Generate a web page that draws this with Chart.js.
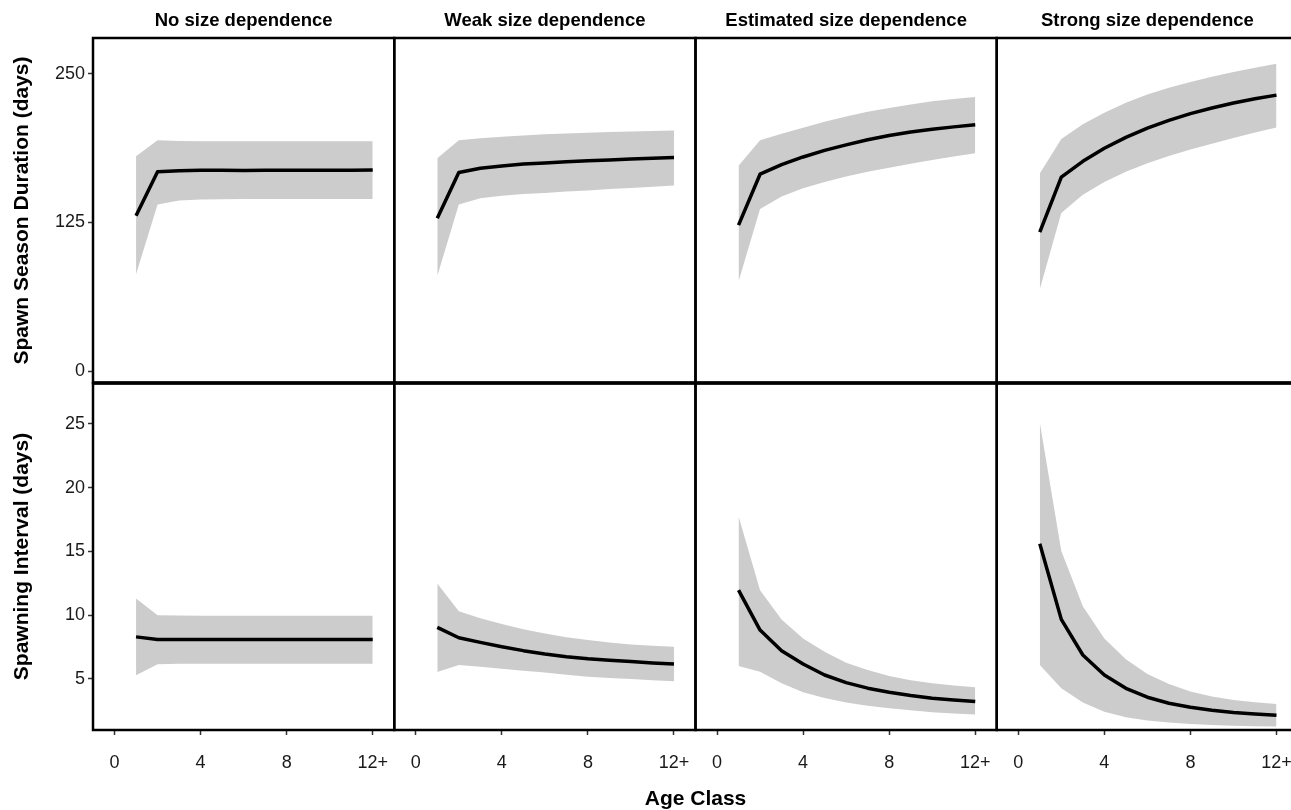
<!DOCTYPE html>
<html>
<head>
<meta charset="utf-8">
<script src="https://cdn.jsdelivr.net/npm/chart.js@4.4.1/dist/chart.umd.min.js"></script>
<style>
  html, body { margin: 0; padding: 0; overflow: hidden; background: #fff; }
  canvas { display: block; }
</style>
</head>
<body>
<canvas id="c" width="1300" height="810"></canvas>
<script>
// ---------- data ----------
const ages = [1, 2, 3, 4, 5, 6, 7, 8, 9, 10, 11, 12];
const xTickValues = [0, 4, 8, 12];
const xTickLabels = ['0', '4', '8', '12+'];
const durTicks = [0, 125, 250];
const intTicks = [5, 10, 15, 20, 25];
const panelTitles = ['No size dependence', 'Weak size dependence', 'Estimated size dependence', 'Strong size dependence'];

// Spawn season duration (days)
const durNoMean   = [130.5, 167.5, 168.5, 168.8, 168.8, 168.7, 168.8, 168.8, 168.8, 168.8, 168.8, 169.0];
const durNoLow    = [81.5, 140.0, 143.5, 144.3, 144.5, 144.6, 144.6, 144.6, 144.6, 144.6, 144.6, 144.6];
const durNoHigh   = [180.5, 194.0, 193.5, 193.3, 193.2, 193.2, 193.2, 193.2, 193.2, 193.2, 193.2, 193.2];
const durWeakMean = [128.5, 167.0, 170.5, 172.5, 174.0, 175.0, 176.0, 176.8, 177.5, 178.2, 178.9, 179.5];
const durWeakLow  = [80.0, 140.0, 145.3, 147.5, 148.8, 149.8, 150.9, 151.9, 153.0, 154.0, 155.0, 156.0];
const durWeakHigh = [179.0, 194.0, 195.7, 197.0, 198.0, 199.0, 199.8, 200.4, 201.0, 201.5, 201.9, 202.3];
const durEstMean  = [122.7, 165.5, 173.5, 180.0, 185.5, 190.2, 194.5, 198.0, 201.0, 203.3, 205.3, 207.0];
const durEstLow   = [75.3, 136.2, 146.8, 153.8, 159.0, 163.5, 167.5, 171.0, 174.3, 177.4, 180.4, 183.2];
const durEstHigh  = [172.7, 194.0, 199.5, 204.5, 209.5, 214.0, 218.0, 221.2, 224.2, 226.8, 228.8, 230.5];
const durStrMean  = [116.8, 163.0, 176.3, 187.3, 196.5, 204.2, 210.8, 216.4, 221.2, 225.4, 228.9, 232.0];
const durStrLow   = [68.8, 132.8, 148.3, 159.0, 167.5, 174.7, 180.8, 186.2, 191.2, 196.0, 200.5, 204.8];
const durStrHigh  = [166.0, 195.2, 207.5, 217.1, 225.5, 232.6, 238.2, 243.0, 247.4, 251.4, 255.0, 258.4];

// Spawning interval (days)
const intNoMean   = [8.3, 8.1, 8.1, 8.1, 8.1, 8.1, 8.1, 8.1, 8.1, 8.1, 8.1, 8.1];
const intNoLow    = [5.3, 6.15, 6.2, 6.2, 6.2, 6.2, 6.2, 6.2, 6.2, 6.2, 6.2, 6.2];
const intNoHigh   = [11.3, 10.0, 9.97, 9.95, 9.95, 9.95, 9.95, 9.95, 9.95, 9.95, 9.95, 9.95];
const intWeakMean = [9.05, 8.23, 7.87, 7.53, 7.22, 6.96, 6.75, 6.59, 6.47, 6.36, 6.26, 6.17];
const intWeakLow  = [5.55, 6.1, 5.95, 5.81, 5.65, 5.5, 5.33, 5.18, 5.08, 5.0, 4.9, 4.82];
const intWeakHigh = [12.48, 10.3, 9.75, 9.3, 8.9, 8.57, 8.28, 8.05, 7.86, 7.71, 7.6, 7.53];
const intEstMean  = [11.96, 8.83, 7.21, 6.17, 5.31, 4.71, 4.28, 3.96, 3.7, 3.49, 3.35, 3.23];
const intEstLow   = [6.02, 5.57, 4.66, 3.96, 3.5, 3.15, 2.9, 2.71, 2.54, 2.4, 2.3, 2.21];
const intEstHigh  = [17.75, 11.96, 9.67, 8.18, 7.14, 6.28, 5.7, 5.23, 4.9, 4.66, 4.48, 4.35];
const intStrMean  = [15.6, 9.67, 6.88, 5.31, 4.27, 3.57, 3.1, 2.79, 2.55, 2.37, 2.25, 2.16];
const intStrLow   = [6.1, 4.27, 3.15, 2.44, 2.0, 1.74, 1.58, 1.48, 1.4, 1.34, 1.3, 1.27];
const intStrHigh  = [25.1, 15.04, 10.71, 8.18, 6.54, 5.39, 4.6, 4.01, 3.63, 3.36, 3.18, 3.04];

// ---------- build ----------
const FONT = '"Liberation Sans", Arial, Helvetica, sans-serif';
Chart.defaults.font.family = FONT;

const panels = [
  {x: 'x1', y: 'yTop', mean: durNoMean,   low: durNoLow,   high: durNoHigh},
  {x: 'x2', y: 'yTop', mean: durWeakMean, low: durWeakLow, high: durWeakHigh},
  {x: 'x3', y: 'yTop', mean: durEstMean,  low: durEstLow,  high: durEstHigh},
  {x: 'x4', y: 'yTop', mean: durStrMean,  low: durStrLow,  high: durStrHigh},
  {x: 'x1', y: 'yBot', mean: intNoMean,   low: intNoLow,   high: intNoHigh},
  {x: 'x2', y: 'yBot', mean: intWeakMean, low: intWeakLow, high: intWeakHigh},
  {x: 'x3', y: 'yBot', mean: intEstMean,  low: intEstLow,  high: intEstHigh},
  {x: 'x4', y: 'yBot', mean: intStrMean,  low: intStrLow,  high: intStrHigh}
];

const pts = arr => ages.map((a, i) => ({x: a, y: arr[i]}));
const datasets = [];
panels.forEach(p => {
  datasets.push({data: pts(p.low), xAxisID: p.x, yAxisID: p.y, borderWidth: 0, pointRadius: 0,
    fill: false, order: 2, tension: 0, borderColor: 'rgba(0,0,0,0)'});
  datasets.push({data: pts(p.high), xAxisID: p.x, yAxisID: p.y, borderWidth: 0, pointRadius: 0,
    fill: '-1', backgroundColor: '#cccccc', order: 2, tension: 0, borderColor: 'rgba(0,0,0,0)'});
  datasets.push({data: pts(p.mean), xAxisID: p.x, yAxisID: p.y, borderWidth: 3.5, pointRadius: 0,
    fill: false, order: 0, tension: 0, borderColor: '#000', borderJoinStyle: 'round'});
});

function zeroPad(s) { s.paddingLeft = 0; s.paddingRight = 0; s.paddingTop = 0; s.paddingBottom = 0; }

const tickFont = {size: 18, lineHeight: 1.2};
const gridTicks = {display: true, drawOnChartArea: false, drawTicks: true, tickLength: 5, tickWidth: 1.5, tickColor: '#333'};

const scales = {};
// bottom x axes (one per column)
['x1', 'x2', 'x3', 'x4'].forEach((id, i) => {
  scales[id] = {
    type: 'linear', position: 'bottom', stack: 'colsBot', stackWeight: 1, weight: i + 1,
    min: -1, max: 13,
    afterBuildTicks: s => { s.ticks = xTickValues.map(v => ({value: v})); },
    afterFit: s => { s.height = 59; zeroPad(s); },
    ticks: {font: tickFont, color: '#1a1a1a', padding: 17, autoSkip: false, maxRotation: 0,
      callback: v => xTickLabels[xTickValues.indexOf(v)]},
    grid: gridTicks, border: {display: false}
  };
});
// top x axes carrying the column titles
['t1', 't2', 't3', 't4'].forEach((id, i) => {
  scales[id] = {
    type: 'linear', position: 'top', stack: 'colsTop', stackWeight: 1, weight: 4 - i,
    min: -1, max: 13, display: true,
    afterFit: s => { s.height = 38; zeroPad(s); },
    ticks: {display: false}, grid: {display: false}, border: {display: false},
    title: {display: true, text: panelTitles[i], color: '#000',
      font: {size: 18.5, weight: 'bold', lineHeight: 1.2}, padding: {top: 10, bottom: 0}}
  };
});
scales.yTop = {
  type: 'linear', position: 'left', stack: 'rows', stackWeight: 345, weight: 2,
  min: -10, max: 280,
  afterBuildTicks: s => { s.ticks = durTicks.map(v => ({value: v})); },
  afterFit: s => { s.width = 93; zeroPad(s); },
  ticks: {font: tickFont, color: '#1a1a1a', padding: 3},
  grid: gridTicks, border: {display: false},
  title: {display: true, text: 'Spawn Season Duration (days)', color: '#000',
    font: {size: 21, weight: 'bold', lineHeight: 1.2}, padding: {top: 10, bottom: 0}}
};
scales.yBot = {
  type: 'linear', position: 'left', stack: 'rows', stackWeight: 347, weight: 1,
  min: 1.0, max: 28.2,
  afterBuildTicks: s => { s.ticks = intTicks.map(v => ({value: v})); },
  afterFit: s => { s.width = 93; zeroPad(s); },
  ticks: {font: tickFont, color: '#1a1a1a', padding: 3},
  grid: gridTicks, border: {display: false},
  title: {display: true, text: 'Spawning Interval (days)', color: '#000',
    font: {size: 21, weight: 'bold', lineHeight: 1.2}, padding: {top: 10, bottom: 0}}
};

const framePlugin = {
  id: 'frames',
  afterDatasetsDraw(chart) {
    const ctx = chart.ctx;
    ctx.save();
    ctx.strokeStyle = '#000';
    ctx.lineWidth = 2.5;
    ['x1', 'x2', 'x3', 'x4'].forEach(xid => {
      const xs = chart.scales[xid];
      ['yTop', 'yBot'].forEach(yid => {
        const ys = chart.scales[yid];
        ctx.strokeRect(xs.left, ys.top, xs.right - xs.left, ys.bottom - ys.top);
      });
    });
    ctx.lineWidth = 3.5;
    ctx.beginPath();
    ctx.moveTo(chart.chartArea.left, chart.scales.yBot.top);
    ctx.lineTo(chart.chartArea.right, chart.scales.yBot.top);
    ctx.stroke();
    ctx.restore();
  }
};

new Chart(document.getElementById('c'), {
  type: 'line',
  data: {datasets},
  options: {
    responsive: false,
    animation: false,
    layout: {padding: {left: 0, right: 2, top: 0, bottom: 0}},
    plugins: {
      legend: {display: false},
      tooltip: {enabled: false},
      filler: {drawTime: 'beforeDatasetsDraw'},
      title: {display: true, position: 'bottom', text: 'Age Class', fullSize: false, color: '#000',
        font: {size: 21, weight: 'bold', lineHeight: 1}, padding: {top: 0, bottom: 0}}
    },
    scales
  },
  plugins: [framePlugin]
});
</script>
</body>
</html>
